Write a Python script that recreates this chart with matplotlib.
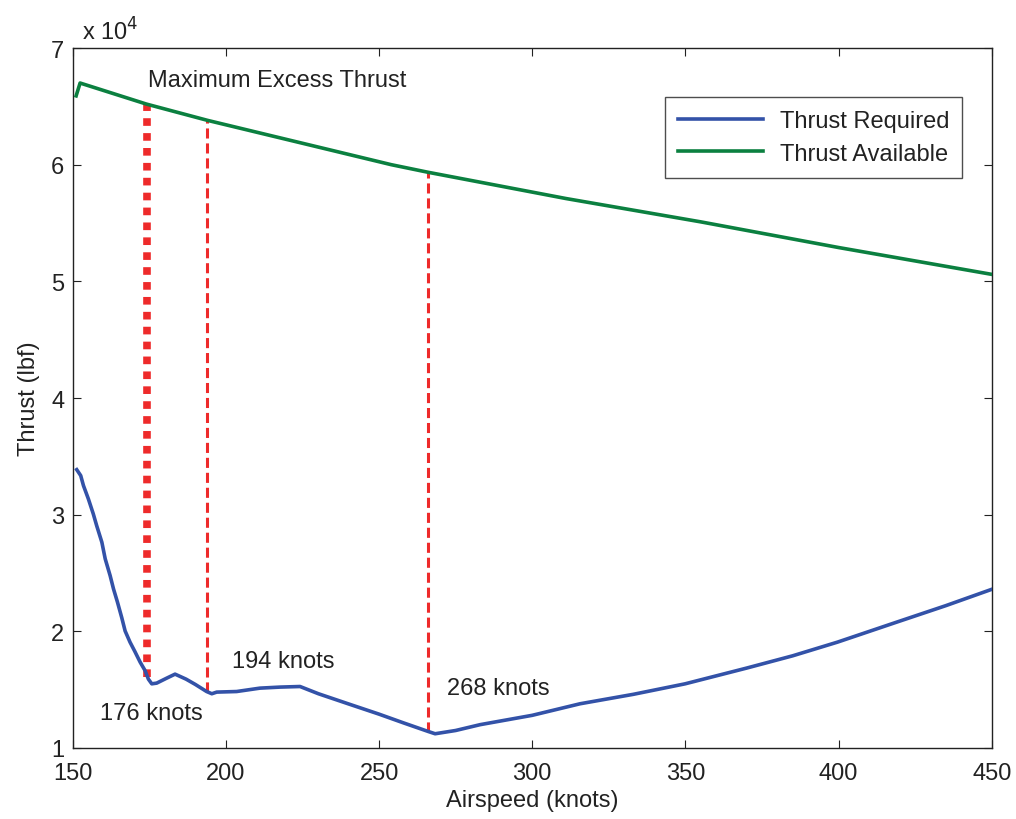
import numpy as np
import matplotlib
matplotlib.use("Agg")
import matplotlib.pyplot as plt
from matplotlib.ticker import FuncFormatter

plt.rcParams['font.family'] = ['Liberation Sans', 'DejaVu Sans']
plt.rcParams['text.color'] = '#222222'
plt.rcParams['xtick.color'] = '#222222'
plt.rcParams['ytick.color'] = '#222222'
plt.rcParams['axes.labelcolor'] = '#222222'

# Thrust required curve (lbf vs knots)
speed_req = [151.3, 152.6, 153.5, 155.1, 156.7, 157.8, 159.5, 160.6, 162.2, 163.3,
             164.6, 166.0, 167.1, 168.7, 170.3, 172.0, 173.6, 174.7, 175.8, 177.4,
             180.7, 183.4, 187.0, 190.0, 193.7, 195.4, 197.0, 203.5, 211.1, 217.7,
             224.2, 230.2, 240.0, 250.0, 258.0, 266.1, 268.3, 275.0, 283.0, 300.0,
             315.6, 333.0, 349.9, 370.0, 385.0, 399.6, 419.0, 435.0, 450.0]
thrust_req = [33860, 33350, 32490, 31350, 30070, 29070, 27640, 26210, 24780, 23640,
              22500, 21170, 20030, 19070, 18260, 17360, 16640, 15900, 15500, 15560,
              15990, 16330, 15900, 15450, 14840, 14650, 14790, 14840, 15130, 15220,
              15270, 14650, 13780, 12900, 12150, 11410, 11220, 11500, 12000, 12800,
              13790, 14600, 15500, 16850, 17900, 19070, 20790, 22200, 23600]

# Thrust available curve
speed_avail = [151.1, 152.4, 174.0, 194.0, 254.0, 266.0, 311.0, 355.0, 400.0, 450.0]
thrust_avail = [65900, 67000, 65200, 63800, 60000, 59350, 57100, 55100, 52900, 50600]

# marked airspeeds
mark_speeds = [174.4, 193.7, 266.1]
mark_labels = ['176 knots', '194 knots', '268 knots']

blue = '#3352a8'
green = '#0b8040'
red = '#ee2a2a'

fig = plt.figure(figsize=(10.16, 8.2), dpi=100)
ax = fig.add_axes([0.0716, 0.0866, 0.9045, 0.8536])

ax.plot(speed_req, thrust_req, color=blue, lw=2.6, label='Thrust Required', zorder=3)
ax.plot(speed_avail, thrust_avail, color=green, lw=2.6, label='Thrust Available', zorder=3)

for i, s in enumerate(mark_speeds):
    lo = np.interp(s, speed_req, thrust_req)
    hi = np.interp(s, speed_avail, thrust_avail)
    if i == 0:
        ax.plot([s, s], [lo, hi], color=red, lw=5.5, ls=(0, (1, 0.95)),
                solid_capstyle='butt', dash_capstyle='butt', zorder=2)
    else:
        ax.plot([s, s], [lo, hi], color=red, lw=2.2, ls=(0, (3.3, 1.6)),
                dash_capstyle='butt', zorder=2)

fs = 17
ax.text(174.6, 67300, 'Maximum Excess Thrust', fontsize=fs, va='center', ha='left')
ax.text(159.0, 13000, mark_labels[0], fontsize=fs, va='center', ha='left')
ax.text(202.1, 17470, mark_labels[1], fontsize=fs, va='center', ha='left')
ax.text(272.2, 15160, mark_labels[2], fontsize=fs, va='center', ha='left')

ax.set_xlim(150, 450)
ax.set_ylim(10000, 70000)
ax.set_xticks(np.arange(150, 451, 50))
ax.set_yticks(np.arange(10000, 70001, 10000))
ax.yaxis.set_major_formatter(FuncFormatter(lambda v, p: '%d' % round(v / 1e4)))
ax.tick_params(direction='in', top=True, right=True, length=6, labelsize=fs)
ax.tick_params(axis='x', pad=10)
ax.tick_params(axis='y', pad=6)
for sp in ax.spines.values():
    sp.set_linewidth(1.0)
    sp.set_color('#222222')

ax.text(0.01, 1.005, r'x 10$^4$', transform=ax.transAxes, fontsize=fs, ha='left', va='bottom')

ax.set_xlabel('Airspeed (knots)', fontsize=fs, labelpad=4)
ax.set_ylabel('Thrust (lbf)', fontsize=fs, labelpad=8)

leg = ax.legend(loc='upper right', bbox_to_anchor=(0.9677, 0.930), borderaxespad=0,
                fontsize=fs, frameon=True, fancybox=False, edgecolor='#222222',
                handlelength=3.6, handletextpad=0.7, borderpad=0.55, labelspacing=0.45)
leg.get_frame().set_linewidth(1.0)

fig.savefig('out.png', dpi=100)
